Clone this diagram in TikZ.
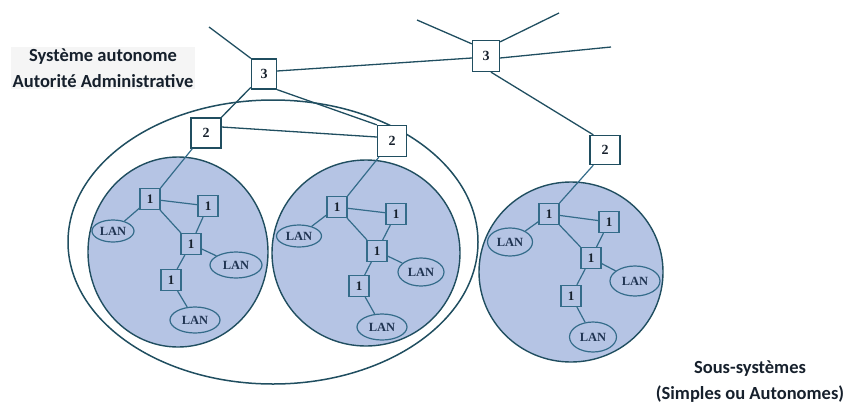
\documentclass[tikz,border=0pt]{standalone}
\usepackage{fontspec}
\setmainfont{Liberation Serif}
\newfontfamily\lblfont{Carlito}
\usetikzlibrary{shapes.geometric}
\definecolor{cfill}{RGB}{181,196,228}
\definecolor{cline}{RGB}{32,78,96}
\definecolor{iline}{RGB}{52,108,138}
\definecolor{txt}{RGB}{22,32,44}
\definecolor{lantxt}{RGB}{32,52,82}
\begin{document}
\begin{tikzpicture}[x=1pt,y=-1pt,
  topbox/.style={draw=cline,line width=1.3pt,fill=white,rectangle,inner sep=0pt,
     minimum width=27pt,minimum height=30pt,text=txt,font=\fontsize{14}{16}\selectfont\bfseries},
  onebox/.style={draw=iline,line width=1.2pt,rectangle,inner sep=0pt,
     minimum width=20pt,minimum height=21pt,text=txt,font=\fontsize{13}{14}\selectfont\bfseries},
  lan/.style={draw=iline,line width=1.2pt,ellipse,inner sep=0pt,text=lantxt,
     font=\fontsize{12.5}{14}\selectfont\bfseries},
  zone/.style={draw=cline,line width=1.4pt,fill=cfill,ellipse,inner sep=0pt},
  link/.style={draw=cline,line width=1.3pt},
  ilink/.style={draw=iline,line width=1.2pt},
  lbl/.style={font=\lblfont\fontsize{18.5}{26}\selectfont\bfseries,text=txt,align=center,
     fill=black!4,inner sep=2pt}]
\useasboundingbox (0,0) rectangle (848,405);

% big ellipse (autonomous system)
\node[draw=cline,line width=1.5pt,ellipse,inner sep=0pt,minimum width=410pt,minimum height=284pt] (big) at (273,242) {};

% sub-system zones
\node[zone,minimum width=180pt,minimum height=190pt] (z1) at (178,252) {};
\node[zone,minimum width=188pt,minimum height=186pt] (z2) at (366,253) {};
\node[zone,minimum width=184pt,minimum height=180pt] (z3) at (571,272) {};

% labels
\node[lbl] (lab1) at (103,68) {Système autonome\\Autorité Administrative};
\node[lbl,fill=none] (lab2) at (750,382) {Sous-systèmes\\(Simples ou Autonomes)};

% level 3 / 2 boxes
\node[topbox,minimum width=25pt,minimum height=30pt] (t3a) at (264,74) {3};
\node[topbox,minimum width=27pt,minimum height=31pt] (t3b) at (486,56) {3};
\node[topbox,minimum width=30pt,minimum height=30pt] (t2a) at (206,133) {2};
\node[topbox,minimum width=29pt,minimum height=31pt] (t2b) at (392,141) {2};
\node[topbox,minimum width=30pt,minimum height=29pt] (t2c) at (605,150) {2};

% free ends
\coordinate (fa) at (209,27);
\coordinate (fb) at (417,20);
\coordinate (fc) at (559,13);
\coordinate (fd) at (611,47);

% zone 1 nodes
\node[onebox] (a1) at (150,199) {1};
\node[onebox] (a2) at (208,206) {1};
\node[onebox] (a3) at (191,244) {1};
\node[onebox] (a4) at (171,280) {1};
\node[lan,minimum width=42pt,minimum height=22pt] (al1) at (113,231) {LAN};
\node[lan,minimum width=52pt,minimum height=26pt] (al2) at (236,265) {LAN};
\node[lan,minimum width=50pt,minimum height=26pt] (al3) at (195,320) {LAN};

% zone 2 nodes
\node[onebox] (b1) at (337,207) {1};
\node[onebox] (b2) at (396,214) {1};
\node[onebox] (b3) at (377,251) {1};
\node[onebox] (b4) at (359,286) {1};
\node[lan,minimum width=45pt,minimum height=22pt] (bl1) at (299,236) {LAN};
\node[lan,minimum width=46pt,minimum height=28pt] (bl2) at (421,272) {LAN};
\node[lan,minimum width=50pt,minimum height=26pt] (bl3) at (382,327) {LAN};

% zone 3 nodes
\node[onebox] (c1) at (549,214) {1};
\node[onebox] (c2) at (609,222) {1};
\node[onebox] (c3) at (591,258) {1};
\node[onebox] (c4) at (571,296) {1};
\node[lan,minimum width=45pt,minimum height=28pt] (cl1) at (510,242) {LAN};
\node[lan,minimum width=50pt,minimum height=30pt] (cl2) at (635,281) {LAN};
\node[lan,minimum width=47pt,minimum height=30pt] (cl3) at (593,337) {LAN};

% backbone links
\path[link] (fa) -- (t3a.north west);
\path[link] ([yshift=3pt]t3a.east) -- ([yshift=-2pt]t3b.west);
\path[link] (t3a) -- (t2a);
\path[link] (t3a.south east) -- (t2b.north west);
\path[link] ([yshift=6pt]t2a.east) -- ([yshift=4pt]t2b.west);
\path[link] (fb) -- ([yshift=-4pt]t3b.north west);
\path[link] (fc) -- ([yshift=-2pt]t3b.north east);
\path[link] (fd) -- ([yshift=-2pt]t3b.east);
\path[link] ([xshift=5pt]t3b.south) -- ([xshift=4pt]t2c.north west);

% links down into the zones
\path[ilink] ([xshift=2pt]t2a.south west) -- (a1.north east);
\path[ilink] ([xshift=2pt]t2b.south west) -- (b1.north east);
\path[ilink] ([xshift=4pt]t2c.south west) -- (c1.north east);

% zone 1 links
\path[ilink] (a1) -- (a2);
\path[ilink] (a1) -- (a3);
\path[ilink] (a2) -- (a3);
\path[ilink] (a3) -- (a4);
\path[ilink] (a1) -- (al1);
\path[ilink] (a3) -- (al2);
\path[ilink] (a4) -- (al3);

% zone 2 links
\path[ilink] (b1) -- (b2);
\path[ilink] (b1) -- (b3);
\path[ilink] (b2) -- (b3);
\path[ilink] (b3) -- (b4);
\path[ilink] (b1) -- (bl1);
\path[ilink] (b3) -- (bl2);
\path[ilink] (b4) -- (bl3);

% zone 3 links
\path[ilink] (c1) -- (c2);
\path[ilink] (c1) -- (c3);
\path[ilink] (c2) -- (c3);
\path[ilink] (c3) -- (c4);
\path[ilink] (c1) -- (cl1);
\path[ilink] (c3) -- (cl2);
\path[ilink] (c4) -- (cl3);
\end{tikzpicture}
\end{document}
